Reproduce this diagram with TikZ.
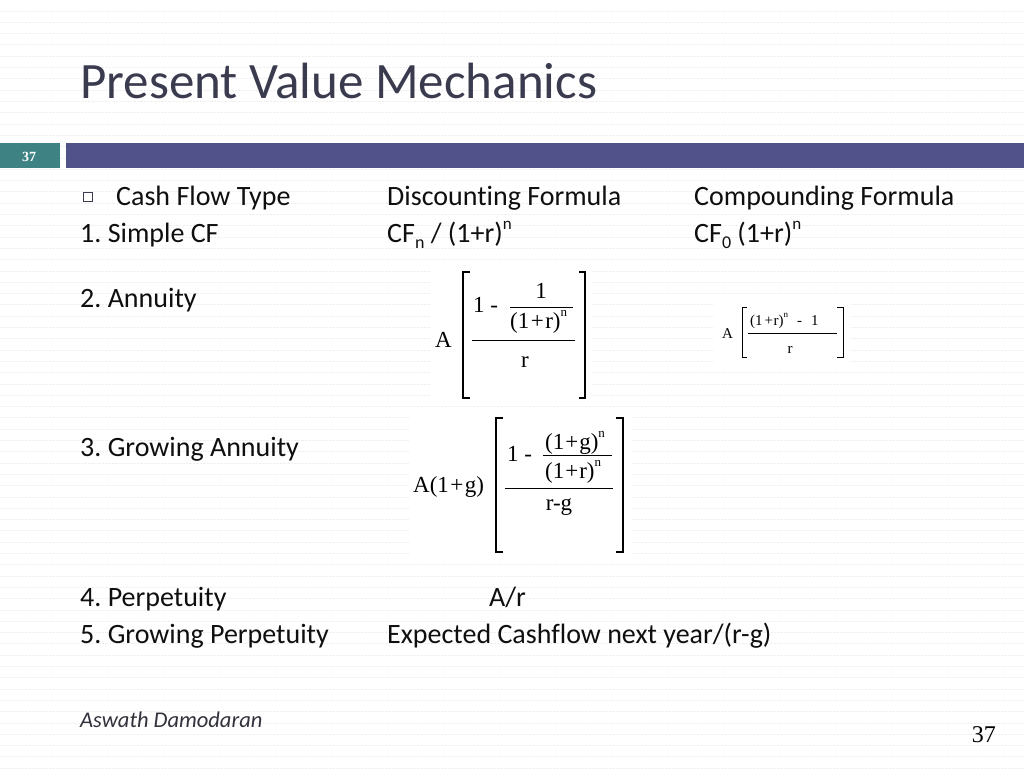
\documentclass[tikz,border=0pt]{standalone}
\usepackage{fontspec}
\setmainfont{Carlito}[Ligatures=NoCommon]
\newfontfamily\timesf{Liberation Serif}
\definecolor{titlecol}{RGB}{59,59,80}
\definecolor{tealcol}{RGB}{63,130,132}
\definecolor{bandcol}{RGB}{82,82,138}
\definecolor{bodycol}{RGB}{15,15,15}
\definecolor{footcol}{RGB}{50,50,60}
\definecolor{bgcol}{RGB}{240,240,240}
\newcommand{\mysubb}[1]{\raisebox{-0.22em}{\fontsize{18}{18}\selectfont #1}}
\newcommand{\mysupp}[1]{\raisebox{0.45em}{\fontsize{17}{17}\selectfont #1}}
\newcommand{\fsup}[1]{\raisebox{0.48em}{\fontsize{13}{13}\selectfont #1}}
\newcommand{\fsupsmall}[1]{\raisebox{0.48em}{\fontsize{9}{9}\selectfont #1}}
\frenchspacing
\begin{document}
\begin{tikzpicture}[x=1pt,y=-1pt]
\tikzset{
  body/.style={anchor=base west, inner sep=0pt, font=\fontsize{28}{34}\selectfont, text=bodycol},
  fml/.style={anchor=base west, inner sep=0pt, font=\timesf\fontsize{23}{27}\selectfont},
  fmlc/.style={anchor=base, inner sep=0pt, font=\timesf\fontsize{23}{27}\selectfont},
  sfml/.style={anchor=base west, inner sep=0pt, font=\timesf\fontsize{15}{18}\selectfont},
  sfmlc/.style={anchor=base, inner sep=0pt, font=\timesf\fontsize{15}{18}\selectfont},
  bracketline/.style={line width=1.3pt},
  fracline/.style={line width=1pt},
  bgline/.style={bgcol, line width=0.8pt, dash pattern=on 2.5pt off 1pt},
}
% background
\fill[white] (0,0) rectangle (1024,768);
\useasboundingbox (0,0) rectangle (1024,768);
\foreach \k in {0,...,67} {
  \draw[bgline] (0,{11+11.3*\k}) -- (1024,{11+11.3*\k});
}
% title
\node[anchor=base west, inner sep=0pt, font=\fontsize{51}{60}\selectfont, text=titlecol] (title) at (80,98) {Present Value Mechanics};
% band
\fill[tealcol] (0,143) rectangle (60,168);
\fill[bandcol] (66,143) rectangle (1024,168);
\node[anchor=base, inner sep=0pt, text=white, font=\timesf\bfseries\fontsize{14}{16}\selectfont] (slnum) at (29,161) {37};
% header row
\node[draw=titlecol, line width=0.8pt, minimum size=8.5pt, inner sep=0pt] (bul) at (88,197) {};
\node[body] (h1) at (116,205) {Cash Flow Type};
\node[body] (h2) at (387,205) {Discounting Formula};
\node[body] (h3) at (694,205) {Compounding Formula};
% row 1
\node[body] (r1) at (80,242) {1. Simple CF};
\node[body] (d1) at (387,242) {CF\mysubb{n} / (1+r)\mysupp{n}};
\node[body] (c1) at (694,242) {CF\mysubb{0} (1+r)\mysupp{n}};
% row 2
\node[body] (r2) at (80,307) {2. Annuity};
\fill[white] (430,268) rectangle (592,405);
\node[fml] (a2A) at (435,347) {A};
\draw[bracketline] (470,272) -- (463,272) -- (463,398) -- (470,398);
\draw[bracketline] (579,272) -- (585,272) -- (585,398) -- (579,398);
\node[fml] (a2one) at (473,312) {1 -};
\node[fmlc] (a2num) at (541,298) {1};
\draw[fracline] (510,307) -- (573,307);
\node[fml] (a2den) at (510,328) {(1\kern1.5pt+\kern1.5pt r)\fsup{n}};
\draw[fracline] (472,340) -- (575,340);
\node[fmlc] (a2r) at (525,367) {r};
% compounding annuity
\fill[white] (714,300) rectangle (850,363);
\node[sfml] (c2A) at (722,338) {A};
\draw[line width=1pt] (747,307) -- (742,307) -- (742,357) -- (747,357);
\draw[line width=1pt] (837,307) -- (843,307) -- (843,357) -- (837,357);
\node[sfml] (c2num) at (750,325) {(1\kern2pt+\kern0.5pt r)\fsupsmall{n}\kern9pt -\kern9pt 1};
\draw[line width=0.8pt] (748,333) -- (837,333);
\node[sfmlc] (c2r) at (790,353) {r};
% row 3
\node[body] (r3) at (80,456) {3. Growing Annuity};
\fill[white] (410,415) rectangle (632,557);
\node[fml] (g3A) at (413,492) {A(1\kern1.5pt+\kern1.5pt g)};
\draw[bracketline] (503,418) -- (496,418) -- (496,552) -- (503,552);
\draw[bracketline] (616,418) -- (623,418) -- (623,552) -- (616,552);
\node[fml] (g3one) at (507,461) {1 -};
\node[fml] (g3num) at (545,449) {(1\kern1pt+\kern1pt g)\fsup{n}};
\draw[fracline] (543,455) -- (612,455);
\node[fml] (g3den) at (545,478) {(1\kern1pt+\kern1pt r)\fsup{n}};
\draw[fracline] (505,488) -- (613,488);
\node[fmlc] (g3rg) at (559,510) {r-g};
% rows 4, 5
\node[body] (r4) at (80,606) {4. Perpetuity};
\node[body] (d4) at (489,606) {A/r};
\node[body] (r5) at (80,643) {5. Growing Perpetuity};
\node[body] (d5) at (387,643) {Expected Cashflow next year/(r-g)};
% footer
\node[anchor=base west, inner sep=0pt, font=\itshape\fontsize{22.5}{26}\selectfont, text=footcol] (author) at (80,727) {Aswath Damodaran};
\node[anchor=base east, inner sep=0pt, font=\timesf\fontsize{24}{28}\selectfont] (pnum) at (996,742) {37};
\end{tikzpicture}
\end{document}
